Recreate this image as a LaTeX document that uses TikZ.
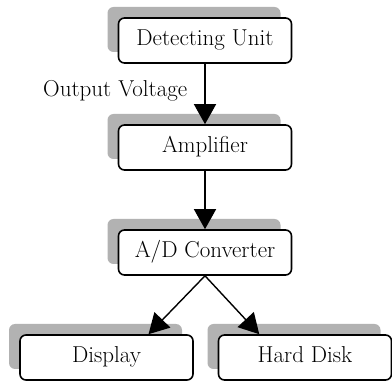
\documentclass[tikz,border=0pt]{standalone}
\usetikzlibrary{arrows.meta,shadows}

\tikzset{
	unit/.style={draw, line width=1.6pt, rounded corners=6pt, fill=white,
		minimum width=173pt, minimum height=45pt, inner sep=0pt,
		text height=15.5pt, text depth=4.5pt,
		font=\fontsize{23}{27}\selectfont,
		drop shadow={shadow xshift=-11pt, shadow yshift=11pt, fill=black!30, opacity=1}},
	flow/.style={line width=1.4pt, -{Triangle[length=20pt,width=22pt]}}
}

\begin{document}
\begin{tikzpicture}[x=1pt,y=1pt]

	\useasboundingbox (0,0) rectangle (392,381);

	% the units
	\node[unit] (det) at (205,340.5) {Detecting Unit};
	\node[unit] (amp) at (205,233.5) {Amplifier};
	\node[unit] (ad) at (205,128.5) {A/D Converter};
	\node[unit] (disp) at (106.5,23.5) {Display};
	\node[unit] (hd) at (305,23.5) {Hard Disk};

	% the signal path
	\draw[flow] (det) -- (amp) node[pos=0.45, left, inner sep=17pt, font=\fontsize{23}{27}\selectfont] (volt) {Output Voltage};
	\draw[flow] (amp) -- (ad);

	\draw[flow] (ad.south) -- (disp.29);
	\draw[flow] (ad.south) -- (hd.153);

\end{tikzpicture}
\end{document}
